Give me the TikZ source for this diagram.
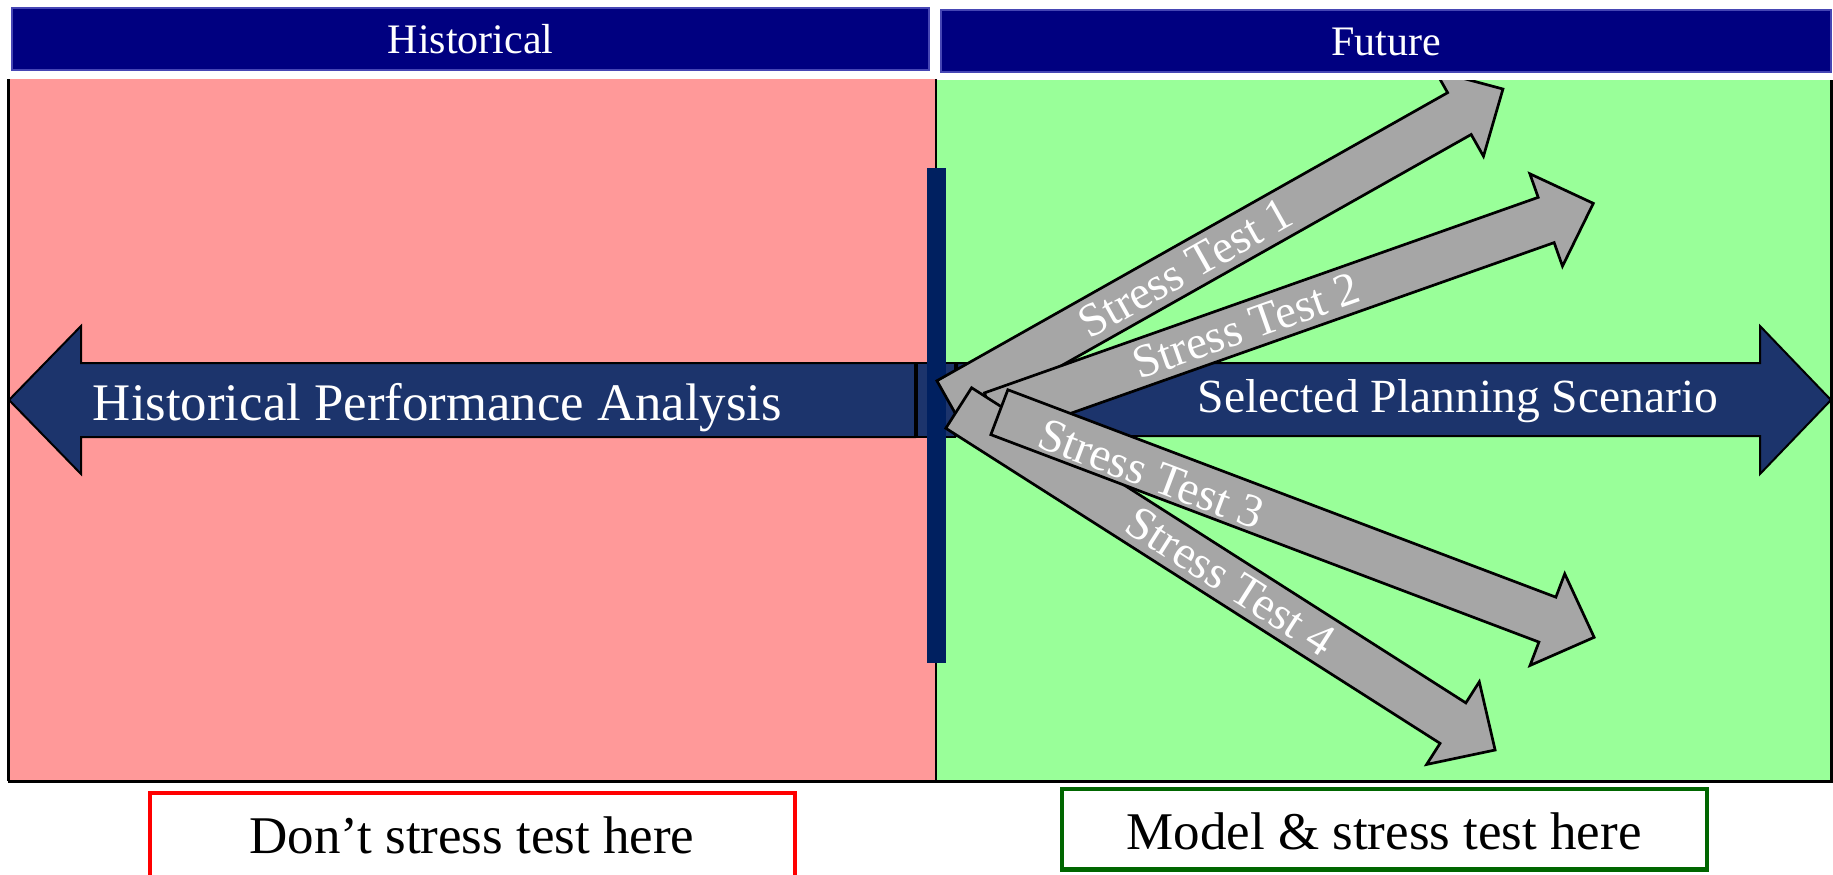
\documentclass[tikz,border=0pt]{standalone}
\usepackage{fontspec}
\setmainfont{Liberation Serif}
\definecolor{pinkbg}{RGB}{255,153,153}
\definecolor{greenbg}{RGB}{153,255,153}
\definecolor{hdrnavy}{RGB}{0,0,128}
\definecolor{hdredge}{RGB}{70,70,180}
\definecolor{barnavy}{RGB}{0,32,96}
\definecolor{arrnavy}{RGB}{28,52,108}
\definecolor{grayarr}{RGB}{166,166,166}
\definecolor{dkgreen}{RGB}{0,102,0}
\tikzset{
  hdrbar/.style={fill=hdrnavy, draw=hdredge, line width=0.6pt},
  hdrtext/.style={text=white, font=\fontsize{21}{25}\selectfont, anchor=base, inner sep=0pt},
  navyarrow/.style={fill=arrnavy, draw=black, line width=1pt, line join=miter},
  grayarrow/.style={fill=grayarr, draw=black, line width=1.35pt, line join=miter},
  stresslabel/.style={text=white, font=\fontsize{23.5}{28}\selectfont, inner sep=0pt},
  biglabel/.style={text=white, anchor=base, inner sep=0pt},
  notebox/.style={line width=2.1pt, fill=white},
  notetext/.style={text=black, font=\fontsize{26.5}{31}\selectfont, anchor=base, inner sep=0pt},
}
% #1 tail x, #2 tail y, #3 angle, #4 length, #5 label position, #6 label offset, #7 node name, #8 text
\newcommand{\stressarrow}[8]{%
  \begin{scope}[shift={(#1,#2)}, rotate=#3]
    \draw[grayarrow] (0,-24) -- (#4-50,-24) -- (#4-50,-49) -- (#4,0) -- (#4-50,49) -- (#4-50,24) -- (0,24) -- cycle;
    \node[stresslabel, rotate=#3] (#7) at (#5,#6) {#8};
  \end{scope}}
\begin{document}
\begin{tikzpicture}[x=0.5pt,y=-0.5pt]
\useasboundingbox (0,0) rectangle (1833,874);
\clip (0,0) rectangle (1833,874);
% header bars
\draw[hdrbar] (12,8) rectangle (929,70);
\node[hdrtext] (histhdr) at (470.5,53.3) {Historical};
\draw[hdrbar] (941,10) rectangle (1831,72);
\node[hdrtext] (futhdr) at (1386,55.3) {Future};
% panels
\fill[pinkbg] (9,79) rectangle (936,781);
\fill[greenbg] (936,80) rectangle (1831,781);
\draw[black, line width=1.3pt] (8.5,79) -- (8.5,781);
\draw[black, line width=1.2pt] (936,79) -- (936,781);
\draw[black, line width=1.3pt] (1831.5,80) -- (1831.5,781);
\draw[black, line width=1.5pt] (7.5,781) -- (1833,781);
% blue timeline arrows
\draw[navyarrow] (9,400) -- (81,326) -- (81,363) -- (915,363) -- (915,437) -- (81,437) -- (81,474) -- cycle;
\draw[navyarrow] (917,363) rectangle (955,437);
\draw[navyarrow] (957,363) -- (1760,363) -- (1760,326) -- (1831,400) -- (1760,474) -- (1760,436) -- (957,436) -- cycle;
\node[biglabel, font=\fontsize{26.4}{31}\selectfont] (hist) at (437.5,420) {Historical Performance Analysis};
\node[biglabel, font=\fontsize{23.8}{28}\selectfont] (plan) at (1458,412.7) {Selected Planning Scenario};
% vertical "now" bar
\fill[barnavy] (927,168) rectangle (946,663);
% stress test arrows
\begin{scope}
  \clip (0,80) rectangle (1833,781);
  \stressarrow{948.7}{401.7}{29.43}{636.4}{272}{0}{st1}{Stress Test 1}
  \stressarrow{992.5}{415.5}{19.45}{637.2}{269}{0}{st2}{Stress Test 2}
  \stressarrow{958.7}{408}{-32.52}{636.2}{323}{0}{st4}{Stress Test 4}
  \stressarrow{999.35}{412.2}{-20.73}{636.0}{164}{4}{st3}{Stress Test 3}
\end{scope}
% bottom notes
\draw[notebox, draw=red] (150,793) rectangle (795,890);
\node[notetext] (dont) at (472,853.3) {Don’t stress test here};
\draw[notebox, draw=dkgreen] (1062,789) rectangle (1707,869.5);
\node[notetext] (model) at (1384,849.3) {Model \& stress test here};
\end{tikzpicture}
\end{document}
